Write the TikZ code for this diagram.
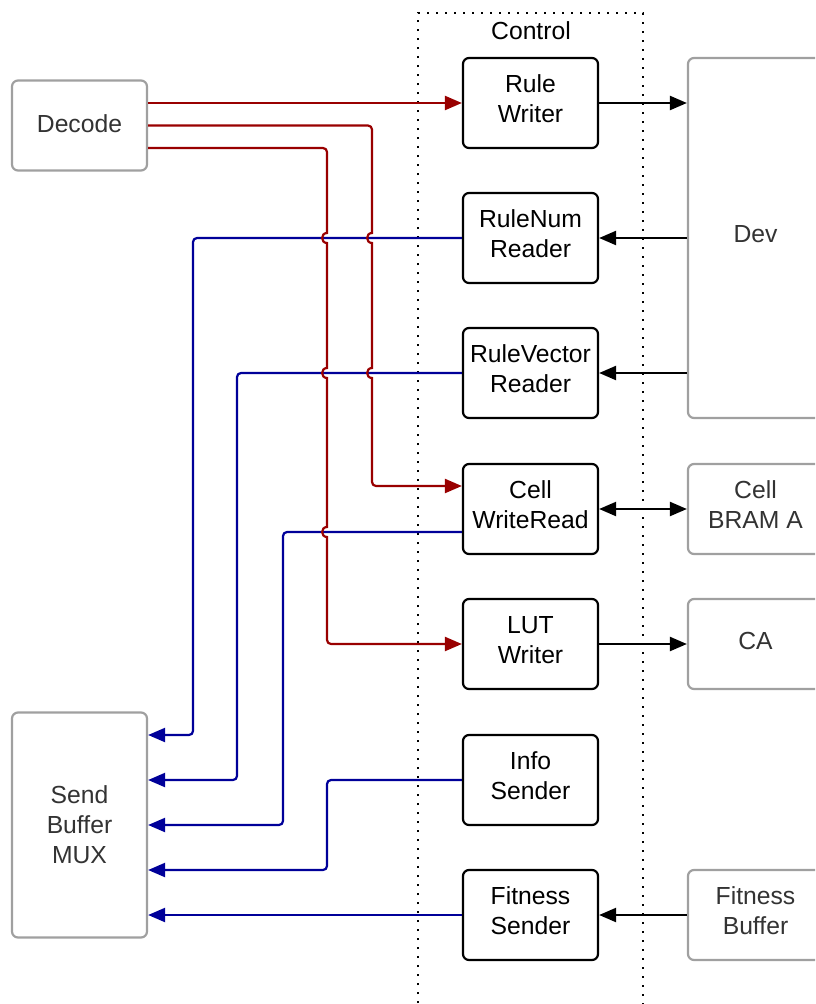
\documentclass[tikz,border=0pt]{standalone}
\usepackage{fontspec}
\setmainfont{Liberation Sans}
\usetikzlibrary{arrows.meta}
\definecolor{rd}{HTML}{990000}
\definecolor{bl}{HTML}{000099}
\definecolor{gb}{HTML}{A0A0A0}
\definecolor{gt}{HTML}{333333}
\newcommand\uptxt[2][2pt]{\raisebox{#1}[\height][\depth]{\begin{tabular}{@{}c@{}}#2\end{tabular}}}
\begin{document}
\begin{tikzpicture}[x=1pt,y=-1pt,
  lbl/.style={font=\fontsize{24.7}{30}\selectfont},
  ctrl/.style={lbl, draw=black, line width=2.2pt, rounded corners=6pt, minimum width=135pt, minimum height=90pt, align=center, inner sep=0pt, fill=white},
  ext/.style={ctrl, draw=gb, text=gt},
  wire/.style={line width=2.2pt, rounded corners=4pt},
  conn/.style={line width=2.2pt, black},
  tip/.style={-{Triangle[length=17pt,width=14pt]}},
  dtip/.style={{Triangle[length=17pt,width=14pt]}-{Triangle[length=17pt,width=14pt]}},
  frame/.style={line width=2.2pt, dash pattern=on 2pt off 7pt},
]
\useasboundingbox (0,0) rectangle (815,1004);
\clip (0,0) rectangle (815,1004);

% dotted control frame
\draw[frame] (418,1012) -- (418,13) -- (643,13) -- (643,1012);
\node[lbl] (ctl) at (531,31) {Control};

% left boxes
\node[ext, minimum height=90pt] (dec) at (79.5,125.5) {\uptxt[-1pt]{Decode}};
\node[ext, minimum height=225pt] (sb) at (79.5,825) {\uptxt[-2pt]{Send\\Buffer\\MUX}};

% control boxes
\node[ctrl] (rw) at (530.5,103) {\uptxt{Rule\\Writer}};
\node[ctrl] (rn) at (530.5,238) {\uptxt{RuleNum\\Reader}};
\node[ctrl] (rv) at (530.5,373) {\uptxt{RuleVector\\Reader}};
\node[ctrl] (cw) at (530.5,509) {\uptxt{Cell\\WriteRead}};
\node[ctrl] (lut) at (530.5,644) {\uptxt{LUT\\Writer}};
\node[ctrl] (is) at (530.5,780) {\uptxt{Info\\Sender}};
\node[ctrl] (fs) at (530.5,915) {\uptxt{Fitness\\Sender}};

% right boxes
\node[ext, minimum height=360pt] (dev) at (755.5,238) {\uptxt{Dev}};
\node[ext] (bram) at (755.5,509) {\uptxt{Cell\\BRAM A}};
\node[ext] (ca) at (755.5,644) {\uptxt[1pt]{CA}};
\node[ext] (fb) at (755.5,915) {\uptxt{Fitness\\Buffer}};

% black connectors
\draw[conn, tip] (rw.east) -- (rw.east -| dev.west);
\draw[conn, tip] (rn.east -| dev.west) -- (rn.east);
\draw[conn, tip] (rv.east -| dev.west) -- (rv.east);
\draw[conn, dtip] (cw.east) -- (bram.west);
\draw[conn, tip] (lut.east) -- (ca.west);
\draw[conn, tip] (fb.west) -- (fs.east);

% blue connectors
\draw[wire, bl, tip] (rn.west) -- (193,238) -- (193,735) -- ([yshift=90pt]sb.east);
\draw[wire, bl, tip] (rv.west) -- (237,373) -- (237,780) -- ([yshift=45pt]sb.east);
\draw[wire, bl, tip] ([yshift=-23pt]cw.west) -- (283,532) -- (283,825) -- (sb.east);
\draw[wire, bl, tip] (is.west) -- (327,780) -- (327,870) -- ([yshift=-45pt]sb.east);
\draw[wire, bl, tip] (fs.west) -- ([yshift=-90pt]sb.east);

% red connectors
\draw[wire, rd, tip] ([yshift=22.5pt]dec.east) -- (rw.west);
\draw[wire, rd, tip] (dec.east) -- (372,125.5) -- (372,180) [sharp corners]
  -- (372,233) .. controls (365.5,233) and (365.5,243) .. (372,243)
  -- (372,368) .. controls (365.5,368) and (365.5,378) .. (372,378)
  -- (372,430) [rounded corners=4pt] -- (372,486) -- ([yshift=23pt]cw.west);
\draw[wire, rd, tip] ([yshift=-22.5pt]dec.east) -- (327,148) -- (327,190) [sharp corners]
  -- (327,233) .. controls (320.5,233) and (320.5,243) .. (327,243)
  -- (327,368) .. controls (320.5,368) and (320.5,378) .. (327,378)
  -- (327,527) .. controls (320.5,527) and (320.5,537) .. (327,537)
  -- (327,600) [rounded corners=4pt] -- (327,644) -- (lut.west);
\end{tikzpicture}
\end{document}
